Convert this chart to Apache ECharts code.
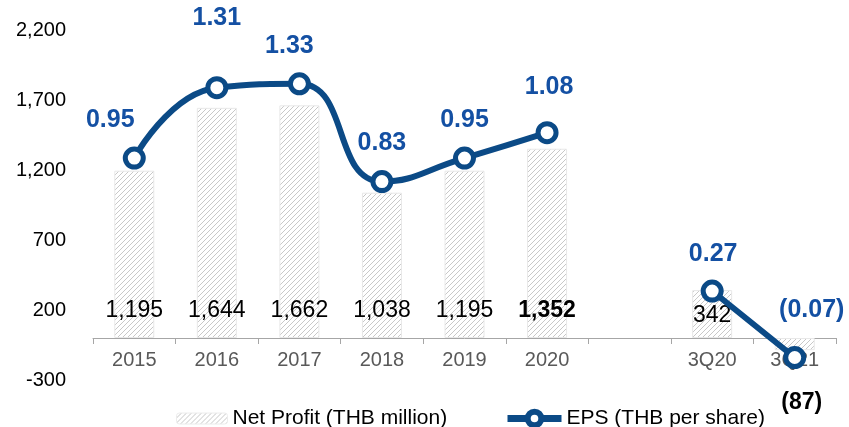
<!DOCTYPE html>
<html>
<head>
<meta charset="utf-8">
<script src="https://cdn.jsdelivr.net/npm/echarts@6/dist/echarts.min.js"></script>
<style>
  html, body { margin: 0; padding: 0; background: #fff; }
  #main { width: 849px; height: 427px; }
</style>
</head>
<body>
<div id="main"></div>
<script>
// data
var categories = ['2015', '2016', '2017', '2018', '2019', '2020', '', '3Q20', '3Q21'];
var netProfit = [1195, 1644, 1662, 1038, 1195, 1352, null, 342, -87];
var eps = [0.95, 1.31, 1.33, 0.83, 0.95, 1.08, null, 0.27, -0.07];
var yTicks = [-300, 200, 700, 1200, 1700, 2200];

// label nudges (style only)
var epsLabelOffset = [[-24, 0], [0, -32], [-10, 0], [0, 0], [0, 0], [2, -8], [0, 0], [1, 1], [17, -9]];

// hatch pattern for bars
function makeHatch(lineColor) {
  var c = document.createElement('canvas');
  c.width = 5;
  c.height = 5;
  var ctx = c.getContext('2d');
  ctx.fillStyle = '#ffffff';
  ctx.fillRect(0, 0, 5, 5);
  ctx.strokeStyle = lineColor;
  ctx.lineWidth = 1;
  ctx.beginPath();
  ctx.moveTo(0, 5); ctx.lineTo(5, 0);
  ctx.moveTo(-1, 1); ctx.lineTo(1, -1);
  ctx.moveTo(4, 6); ctx.lineTo(6, 4);
  ctx.stroke();
  return c;
}
var hatch = makeHatch('#c8c8c8');

function fmtNum(v) {
  var s = Math.abs(v).toString().replace(/\B(?=(\d{3})+(?!\d))/g, ',');
  return v < 0 ? '(' + s + ')' : s;
}

var barData = [];
for (var i = 0; i < netProfit.length; i++) {
  var item = { value: netProfit[i] };
  if (categories[i] === '2020') {
    item.label = { fontWeight: 'bold' };
  } else if (netProfit[i] !== null && netProfit[i] < 0) {
    // negative bar: label pushed below the axis labels
    item.label = { position: 'bottom', distance: 41, offset: [7, 0], fontWeight: 'bold' };
  } else if (categories[i] === '3Q20') {
    item.label = { offset: [0, 5] };
  }
  barData.push(item);
}

var lineData = [];
for (var j = 0; j < eps.length; j++) {
  lineData.push({ value: eps[j], label: { offset: epsLabelOffset[j] } });
}

var lineColor = '#0b4a86';

var myChart = echarts.init(document.getElementById('main'));
var option = {
  animation: false,
  textStyle: { fontFamily: 'Liberation Sans, Arial, sans-serif' },
  grid: { left: 93, right: 13, top: 30, bottom: 47 },
  legend: [
    {
      left: 171,
      top: 403,
      itemWidth: 51,
      itemHeight: 11,
      textStyle: { fontSize: 21, color: '#000' },
      data: [{ name: 'Net Profit (THB million)', itemStyle: { borderColor: '#ececec', borderWidth: 1 } }]
    },
    {
      left: 499,
      top: 403,
      itemWidth: 54,
      itemHeight: 17,
      textStyle: { fontSize: 21, color: '#000' },
      data: [{
        name: 'EPS (THB per share)',
        itemStyle: { color: '#ffffff', borderColor: lineColor, borderWidth: 6 },
        lineStyle: { width: 7, color: lineColor }
      }]
    }
  ],
  xAxis: {
    type: 'category',
    data: categories,
    axisLine: { onZero: true, onZeroAxisIndex: 0, lineStyle: { color: '#a6a6a6', width: 1 } },
    axisTick: { show: true, interval: 0, length: 6, lineStyle: { color: '#a6a6a6' } },
    axisLabel: { interval: 0, fontSize: 20, color: '#595959', margin: -30 }
  },
  yAxis: [
    {
      type: 'value',
      min: yTicks[0],
      max: yTicks[yTicks.length - 1],
      interval: 500,
      splitLine: { show: false },
      axisLine: { show: false },
      axisTick: { show: false },
      axisLabel: {
        fontSize: 20,
        color: '#000',
        margin: 27,
        formatter: function (v) { return v.toString().replace(/\B(?=(\d{3})+(?!\d))/g, ','); }
      }
    },
    {
      type: 'value',
      min: -0.185,
      max: 1.605,
      show: false,
      splitLine: { show: false }
    }
  ],
  series: [
    {
      name: 'Net Profit (THB million)',
      type: 'bar',
      yAxisIndex: 0,
      barWidth: 40,
      data: barData,
      itemStyle: {
        color: { image: hatch, repeat: 'repeat' },
        borderColor: '#e8e8e8',
        borderWidth: 1
      },
      label: {
        show: true,
        position: 'insideBottom',
        distance: 16,
        fontSize: 23,
        color: '#000',
        formatter: function (p) { return fmtNum(p.value); }
      },
      z: 1
    },
    {
      name: 'EPS (THB per share)',
      type: 'line',
      yAxisIndex: 1,
      data: lineData,
      smooth: 0.5,
      connectNulls: false,
      symbol: 'circle',
      symbolSize: 18,
      lineStyle: { color: lineColor, width: 6 },
      itemStyle: { color: '#ffffff', borderColor: lineColor, borderWidth: 5 },
      label: {
        show: true,
        position: 'top',
        distance: 14,
        fontSize: 25,
        fontWeight: 'bold',
        color: '#1450a3',
        formatter: function (p) {
          var v = p.value;
          return v < 0 ? '(' + Math.abs(v).toFixed(2) + ')' : v.toFixed(2);
        }
      },
      z: 3
    }
  ]
};
option && myChart.setOption(option);
</script>
</body>
</html>
